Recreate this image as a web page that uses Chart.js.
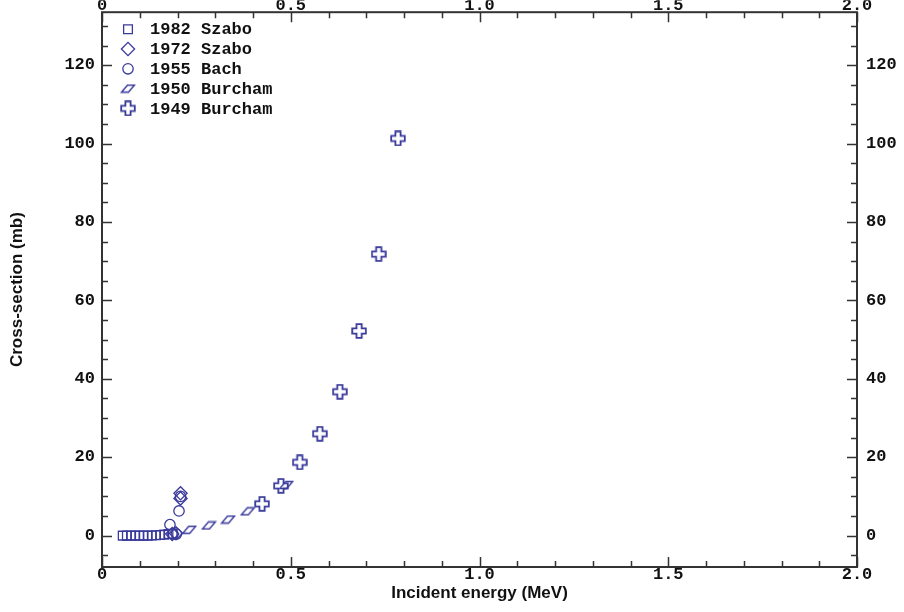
<!DOCTYPE html>
<html>
<head>
<meta charset="utf-8">
<script src="https://cdn.jsdelivr.net/npm/chart.js@4.4.0/dist/chart.umd.min.js"></script>
<style>
html,body{margin:0;padding:0;background:#fff;}
#wrap{width:904px;height:612px;}
</style>
</head>
<body>
<div id="wrap"><canvas id="c" width="904" height="612"></canvas></div>
<script>
// ---- data ----
const seriesLabels = ['1982 Szabo', '1972 Szabo', '1955 Bach', '1950 Burcham', '1949 Burcham'];

const szabo1982E = [0.055, 0.066, 0.077, 0.088, 0.099, 0.110, 0.121, 0.132, 0.143, 0.154, 0.165, 0.176, 0.187];
const szabo1982S = [0.0, 0.0, 0.0, 0.0, 0.0, 0.0, 0.0, 0.05, 0.1, 0.15, 0.25, 0.4, 0.5];

const szabo1972E = [0.186, 0.196, 0.208, 0.208];
const szabo1972S = [0.4, 0.6, 9.5, 10.8];

const bach1955E = [0.180, 0.188, 0.197, 0.204, 0.208];
const bach1955S = [2.8, 0.4, 0.4, 6.3, 10.0];

const burcham1950E = [0.231, 0.283, 0.334, 0.386, 0.488];
const burcham1950S = [1.5, 2.6, 4.1, 6.2, 12.9];

const burcham1949E = [0.424, 0.474, 0.524, 0.577, 0.630, 0.681, 0.733, 0.784];
const burcham1949S = [8.1, 12.7, 18.7, 26.0, 36.7, 52.2, 71.8, 101.3];

const xTickValues = [0, 0.5, 1.0, 1.5, 2.0];
const xTickLabels = ['0', '0.5', '1.0', '1.5', '2.0'];
const yTickValues = [0, 20, 40, 60, 80, 100, 120];
const yTickLabels = ['0', '20', '40', '60', '80', '100', '120'];

const xTitle = 'Incident energy (MeV)';
const yTitle = 'Cross-section (mb)';

// ---- styles ----
const MARK = '#3a3a9c';
const FRAME = '#333333';
const MONO = '"Liberation Mono", "DejaVu Sans Mono", monospace';
const tickFont = {family: MONO, size: 17, weight: 'bold'};
const titleFont = {family: '"Liberation Sans", Arial, sans-serif', size: 17, weight: 'bold'};

function makeCanvas(w, h, draw) {
  const c = document.createElement('canvas');
  c.width = w; c.height = h;
  const ctx = c.getContext('2d');
  draw(ctx, w, h);
  return c;
}
const plusImg = makeCanvas(16, 16, (ctx) => {
  const a = 2.6, L = 6.8, cx = 8, cy = 8;
  ctx.beginPath();
  ctx.moveTo(cx - a, cy - L); ctx.lineTo(cx + a, cy - L); ctx.lineTo(cx + a, cy - a);
  ctx.lineTo(cx + L, cy - a); ctx.lineTo(cx + L, cy + a); ctx.lineTo(cx + a, cy + a);
  ctx.lineTo(cx + a, cy + L); ctx.lineTo(cx - a, cy + L); ctx.lineTo(cx - a, cy + a);
  ctx.lineTo(cx - L, cy + a); ctx.lineTo(cx - L, cy - a); ctx.lineTo(cx - a, cy - a);
  ctx.closePath();
  ctx.fillStyle = '#ffffff'; ctx.fill();
  ctx.lineWidth = 1.8; ctx.strokeStyle = MARK; ctx.stroke();
});
const paraImg = makeCanvas(16, 10, (ctx) => {
  ctx.beginPath();
  ctx.moveTo(1.5, 8.5); ctx.lineTo(8.5, 8.5); ctx.lineTo(14.5, 1.5); ctx.lineTo(7.5, 1.5);
  ctx.closePath();
  ctx.lineWidth = 1.4; ctx.strokeStyle = MARK; ctx.stroke();
});

function pts(E, S) { return E.map((e, i) => ({x: e, y: S[i]})); }

const datasets = [
  {label: seriesLabels[0], data: pts(szabo1982E, szabo1982S), pointStyle: 'rect', pointRadius: 6.2, borderWidth: 1.3},
  {label: seriesLabels[1], data: pts(szabo1972E, szabo1972S), pointStyle: 'rectRot', pointRadius: 6.6, borderWidth: 1.3},
  {label: seriesLabels[2], data: pts(bach1955E, bach1955S), pointStyle: 'circle', pointRadius: 5.2, borderWidth: 1.3},
  {label: seriesLabels[3], data: pts(burcham1950E, burcham1950S), pointStyle: paraImg, pointRadius: 6, borderWidth: 1},
  {label: seriesLabels[4], data: pts(burcham1949E, burcham1949S), pointStyle: plusImg, pointRadius: 7, borderWidth: 1}
].map(d => Object.assign(d, {
  showLine: false, borderColor: MARK, backgroundColor: 'rgba(0,0,0,0)',
  pointBorderColor: MARK, pointBackgroundColor: 'rgba(0,0,0,0)',
  pointBorderWidth: d.borderWidth, pointHoverRadius: d.pointRadius
}));

// plugin: frame, inward ticks, in-plot legend
const decor = {
  id: 'decor',
  afterDraw(chart) {
    const {ctx, chartArea: a, scales} = chart;
    const xs = scales.x, ys = scales.y;
    ctx.save();
    ctx.strokeStyle = FRAME;
    ctx.lineWidth = 2;
    ctx.strokeRect(a.left, a.top, a.right - a.left, a.bottom - a.top);
    ctx.lineWidth = 1.5;
    ctx.beginPath();
    for (let i = 0; i <= 20; i++) {
      const v = i / 10;
      const px = Math.round(xs.getPixelForValue(v)) + 0.5;
      const len = (i % 5 === 0) ? 10 : 6;
      ctx.moveTo(px, a.bottom); ctx.lineTo(px, a.bottom - len);
      ctx.moveTo(px, a.top); ctx.lineTo(px, a.top + len);
    }
    for (let v = -5; v <= 130; v += 5) {
      const py = Math.round(ys.getPixelForValue(v)) + 0.5;
      const len = (v % 20 === 0) ? 10 : 6;
      ctx.moveTo(a.left, py); ctx.lineTo(a.left + len, py);
      ctx.moveTo(a.right, py); ctx.lineTo(a.right - len, py);
    }
    ctx.stroke();
    // legend
    const lx = a.left + 26, tx = a.left + 48;
    let ly = a.top + 17;
    ctx.textBaseline = 'middle';
    ctx.textAlign = 'left';
    chart.data.datasets.forEach((ds) => {
      ctx.strokeStyle = MARK;
      ctx.fillStyle = 'rgba(0,0,0,0)';
      ctx.lineWidth = ds.pointBorderWidth;
      Chart.helpers.drawPoint(ctx, {
        pointStyle: ds.pointStyle, radius: ds.pointRadius, rotation: 0,
        borderWidth: ds.pointBorderWidth
      }, lx, ly);
      ctx.fillStyle = '#111';
      ctx.font = 'bold 17px ' + MONO;
      ctx.fillText(ds.label, tx, ly + 1);
      ly += 19.8;
    });
    ctx.restore();
  }
};

const hiddenTicks = (len) => ({display: true, drawOnChartArea: false, drawTicks: true, tickLength: len, color: 'rgba(0,0,0,0)'});

const commonX = {
  type: 'linear', min: 0, max: 2.0,
  border: {display: false},
  afterBuildTicks: (s) => { s.ticks = xTickValues.map(v => ({value: v})); },
  ticks: {
    font: tickFont, color: '#111', maxRotation: 0, autoSkip: false,
    callback: (v) => { const i = xTickValues.indexOf(v); return i >= 0 ? xTickLabels[i] : ''; }
  }
};
const commonY = {
  type: 'linear', min: -8, max: 133.5,
  border: {display: false},
  afterBuildTicks: (s) => { s.ticks = yTickValues.map(v => ({value: v})); },
  ticks: {
    font: tickFont, color: '#111', autoSkip: false,
    callback: (v) => { const i = yTickValues.indexOf(v); return i >= 0 ? yTickLabels[i] : ''; }
  }
};

new Chart(document.getElementById('c'), {
  type: 'scatter',
  data: {datasets},
  options: {
    responsive: false, animation: false, devicePixelRatio: 1,
    layout: {padding: 0},
    plugins: {legend: {display: false}, tooltip: {enabled: false}},
    scales: {
      x: Object.assign({}, commonX, {
        position: 'bottom',
        grid: {display: false, drawTicks: false},
        ticks: Object.assign({}, commonX.ticks, {padding: -2}),
        title: {display: true, text: xTitle, font: titleFont, color: '#111', padding: {top: 0, bottom: 8}},
        afterFit: (s) => { s.height = 45; }
      }),
      x2: Object.assign({}, commonX, {
        position: 'top',
        grid: {display: false, drawTicks: false},
        ticks: Object.assign({}, commonX.ticks, {padding: -4}),
        afterFit: (s) => { s.height = 12; }
      }),
      y: Object.assign({}, commonY, {
        position: 'left',
        grid: hiddenTicks(5),
        ticks: Object.assign({}, commonY.ticks, {padding: 2}),
        title: {display: true, text: yTitle, font: titleFont, color: '#111', padding: {top: 7, bottom: 0}},
        afterFit: (s) => { s.width = 102; }
      }),
      y2: Object.assign({}, commonY, {
        position: 'right',
        grid: hiddenTicks(7),
        ticks: Object.assign({}, commonY.ticks, {padding: 2}),
        afterFit: (s) => { s.width = 47; }
      })
    }
  },
  plugins: [decor]
});
</script>
</body>
</html>
